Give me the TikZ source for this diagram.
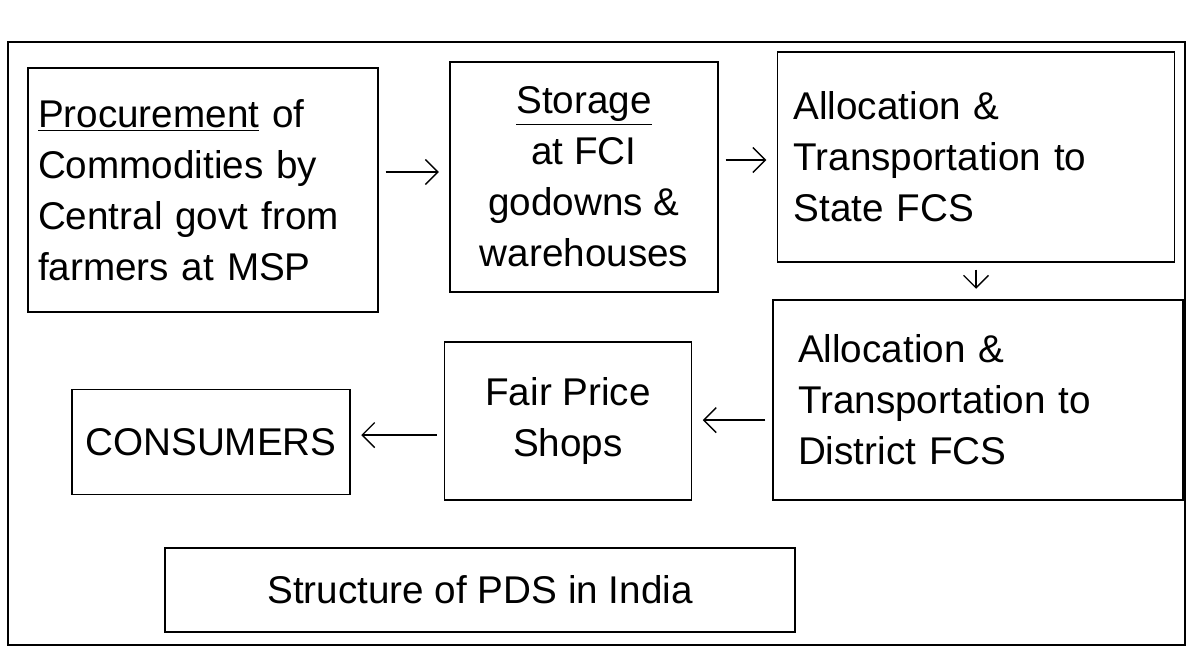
\documentclass[tikz,border=0pt]{standalone}
\usepackage{fontspec}
\setmainfont{Liberation Sans}
\usetikzlibrary{arrows.meta}

\tikzset{
  stagebox/.style={draw, thick, inner sep=5pt, font=\fontsize{22}{29}\selectfont},
  flow/.style={-{Straight Barb[length=2.5mm]}, thick, shorten <=4pt, shorten >=6pt}
}

\begin{document}
\begin{tikzpicture}[x=0.02cm, y=-0.02cm]
% canvas and outer frame
\useasboundingbox (0,0) rectangle (1192,650);
\draw[thick] (8,42) rectangle (1185,645);

% first row
\node[stagebox, minimum width=350*0.02cm, minimum height=244*0.02cm, text width=6.6cm, align=left] (proc) at (203,190)
  {\underline{Procurement} of\\Commodities by\\Central govt from\\farmers at MSP};
\node[stagebox, minimum width=268*0.02cm, minimum height=230*0.02cm, align=center] (store) at (584,177)
  {\underline{Storage}\\at FCI\\godowns \&\\warehouses};
\node[stagebox, minimum width=397*0.02cm, minimum height=210*0.02cm, text width=7.3cm, align=left] (state) at (976,157)
  {Allocation \&\\Transportation to\\State FCS};

% second row
\node[stagebox, minimum width=410*0.02cm, minimum height=200*0.02cm, text width=7.2cm, align=left] (dist) at (978,400)
  {Allocation \&\\Transportation to\\District FCS};
\node[stagebox, minimum width=247*0.02cm, minimum height=158*0.02cm, align=center] (shop) at (568,421)
  {Fair Price\\Shops};
\node[stagebox, minimum width=278*0.02cm, minimum height=105*0.02cm] (cons) at (211,442)
  {CONSUMERS};

% caption box
\node[stagebox, minimum width=630*0.02cm, minimum height=84*0.02cm] (title) at (480,590)
  {Structure of PDS in India};

% flow of grain
\draw[flow] ([yshift=0.36cm]proc.east) -- ([yshift=0.36cm]proc.east -| store.west);
\draw[flow] ([yshift=0.34cm]store.east) -- ([yshift=0.34cm]store.east -| state.west);
\draw[flow] (state.south) -- (state.south |- dist.north);
\draw[flow] ([yshift=-0.4cm]dist.west) -- ([yshift=-0.4cm]dist.west -| shop.east);
\draw[flow] ([yshift=-0.28cm]shop.west) -- ([yshift=-0.28cm]shop.west -| cons.east);

\end{tikzpicture}
\end{document}
